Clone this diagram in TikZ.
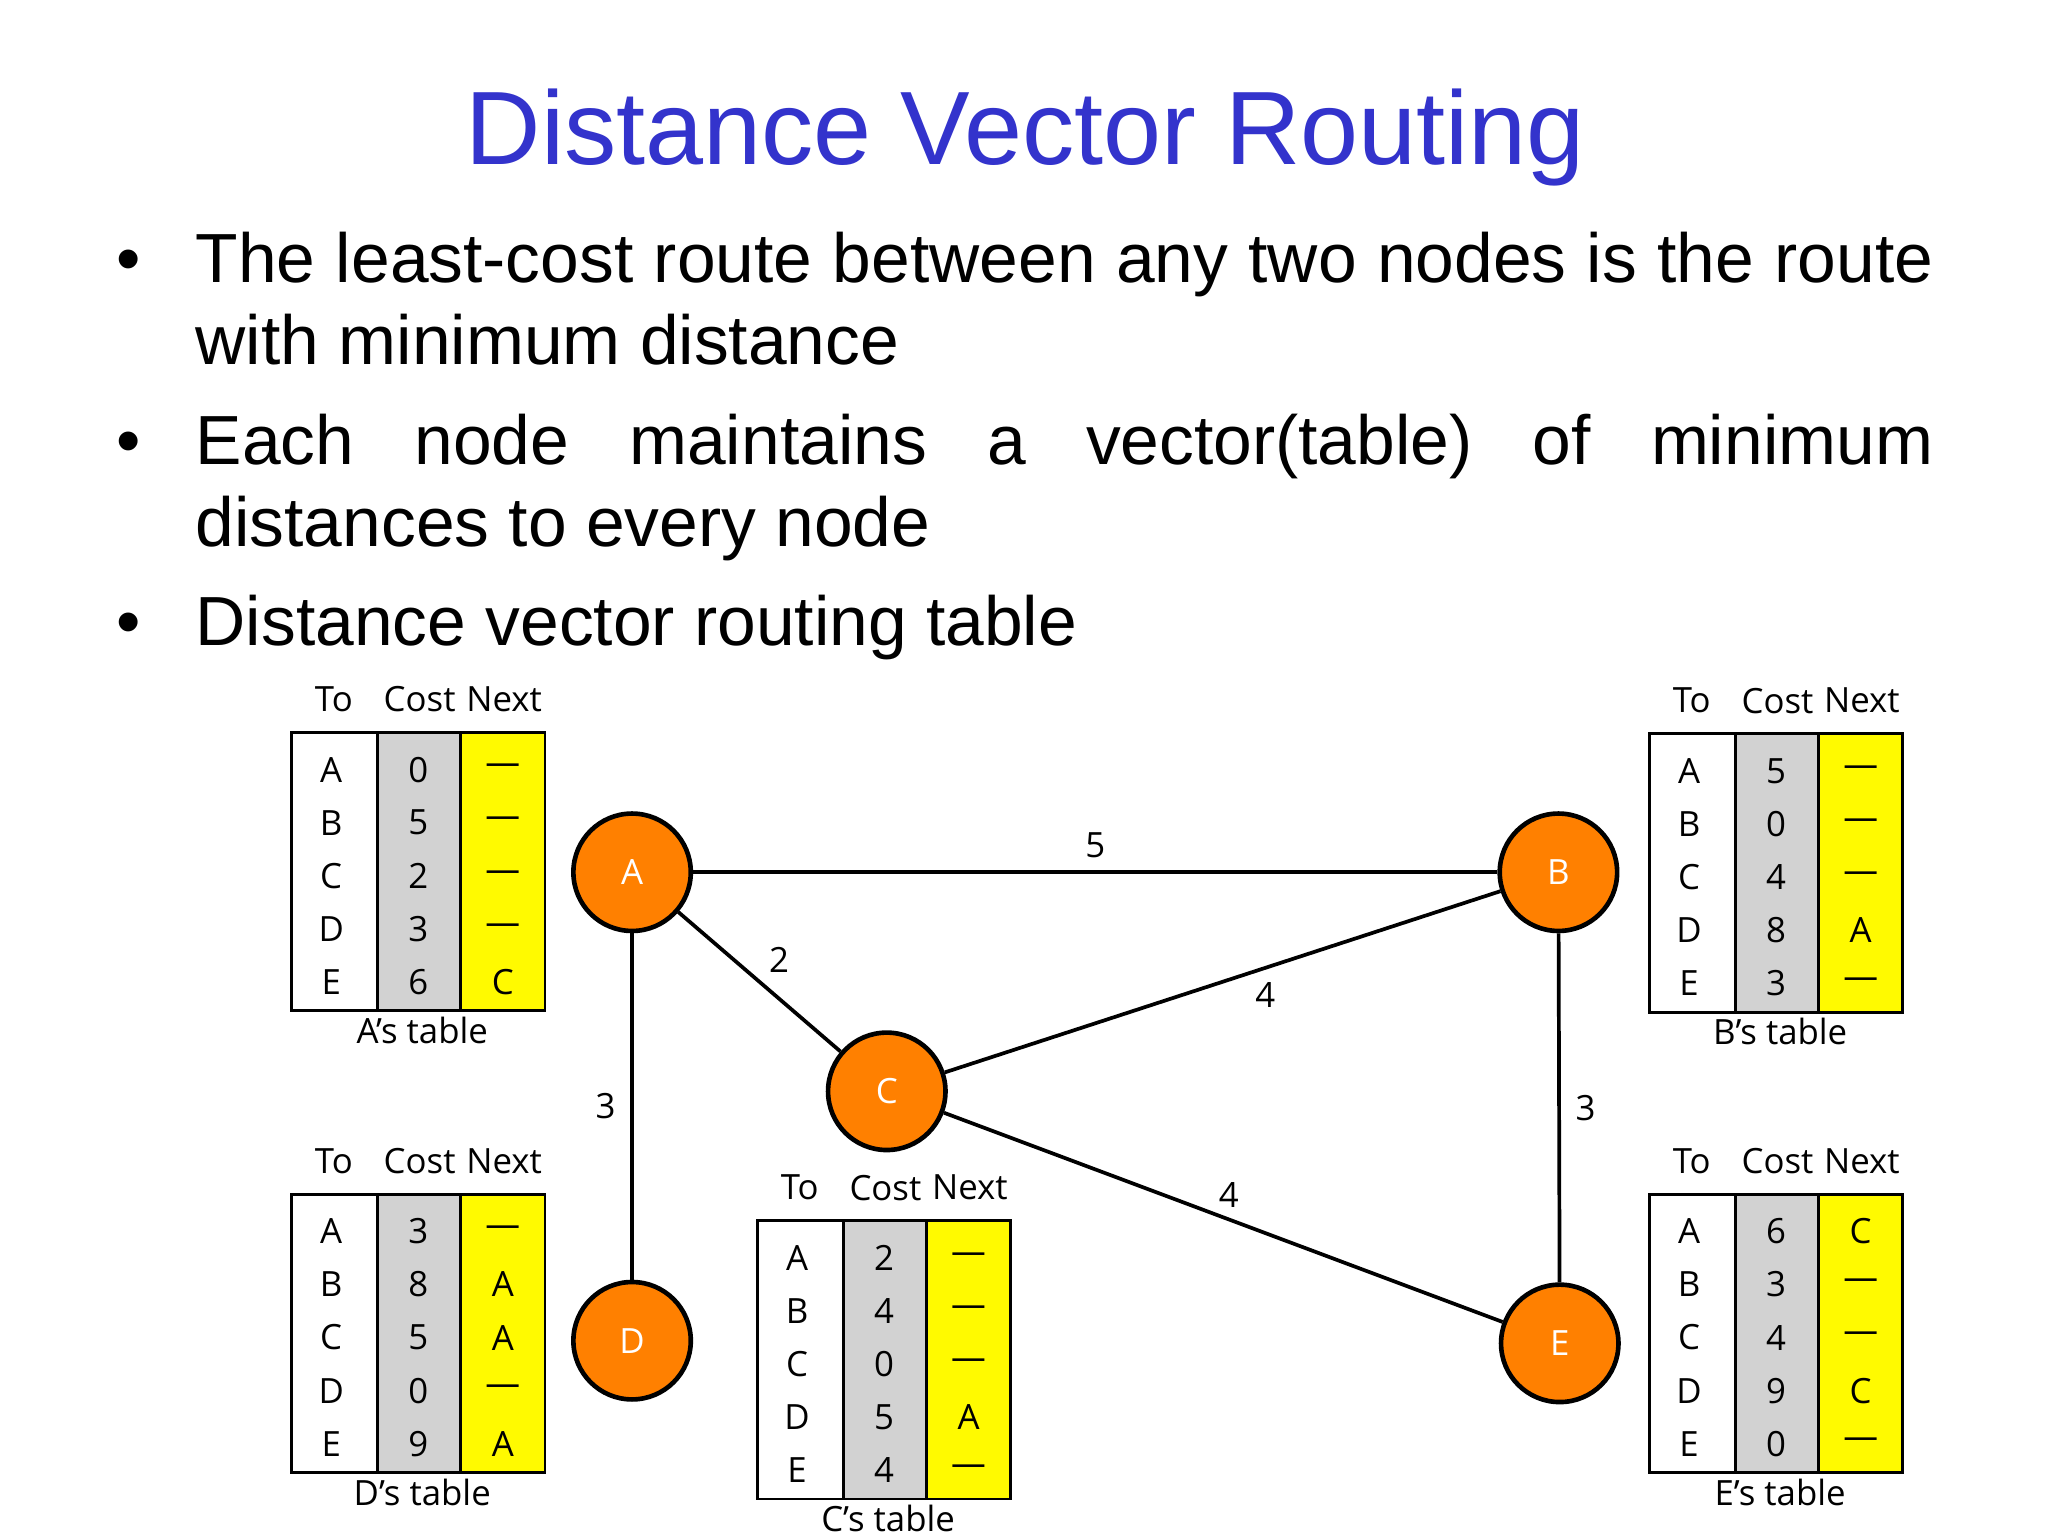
\documentclass[tikz,border=0pt]{standalone}
\usepackage{fontspec}
\setmainfont{Liberation Sans}
\newfontfamily\tabfont{Open Sans}
\definecolor{titleblue}{RGB}{51,51,204}
\definecolor{nodeor}{RGB}{255,128,0}
\definecolor{cellgray}{RGB}{210,210,210}
\definecolor{cellyel}{RGB}{255,250,0}
\tikzset{
 rnode/.style={circle,draw=black,line width=2pt,fill=nodeor,minimum size=1.78cm,inner sep=0pt,font=\tabfont\fontsize{15}{15}\selectfont,text=white},
 link/.style={line width=1.6pt},
 elab/.style={font=\tabfont\fontsize{15}{15}\selectfont},
 tabtxt/.style={font=\tabfont\fontsize{15}{15}\selectfont,inner sep=0pt},
 body/.style={anchor=base west,font=\fontsize{30}{30}\selectfont,inner sep=0pt}
}
\newcommand\dvtab[4]{%
 \fill[cellgray] (#1+65,#2) rectangle (#1+128,#2+211);
 \fill[cellyel] (#1+128,#2) rectangle (#1+192,#2+211);
 \draw[line width=1.2pt] (#1,#2) rectangle (#1+192,#2+211);
 \draw[line width=1.2pt] (#1+65,#2) -- (#1+65,#2+211) (#1+128,#2) -- (#1+128,#2+211);
 \node[tabtxt] at (#1+32,#2-25) {To};
 \node[tabtxt] at (#1+97,#2-25) {Cost};
 \node[tabtxt] at (#1+161,#2-25) {Next};
 \foreach \t/\c/\n [count=\i] in {#4} {
  \node[tabtxt] at (#1+30,#2+\i*40.2-12) {\t};
  \node[tabtxt] at (#1+96,#2+\i*40.2-12) {\c};
  \node[tabtxt] at (#1+160,#2+\i*40.2-12) {\n};
 }
 \node[tabtxt] at (#1+99,#2+226) {#3};
}
\begin{document}
\begin{tikzpicture}[x=0.02cm,y=-0.02cm]
\fill[white] (0,0) rectangle (1552,1164);
\useasboundingbox (0,0) rectangle (1552,1164);
\node[font=\fontsize{45}{45}\selectfont,text=titleblue,anchor=base] (title) at (777,125) {Distance Vector Routing};
\foreach \y in {214,352,489} \node[body] at (88,\y) {\textbullet};
\node[body] (l1) at (148,214) {\hbox to 26.34cm{The\hfill least-cost\hfill route\hfill between\hfill any\hfill two\hfill nodes\hfill is\hfill the\hfill route}};
\node[body] (l2) at (148,276) {with minimum distance};
\node[body] (l3) at (148,352) {\hbox to 26.34cm{Each\hfill node\hfill maintains\hfill a\hfill vector(table)\hfill of\hfill minimum}};
\node[body] (l4) at (148,414) {distances to every node};
\node[body] (l5) at (148,489) {Distance vector routing table};

\node[rnode] (A) at (479,661) {A};
\node[rnode] (B) at (1181,661) {B};
\node[rnode] (C) at (672,827) {C};
\node[rnode] (D) at (479,1016) {D};
\node[rnode] (E) at (1182,1018) {E};
\draw[link] (A) -- node[elab,above,pos=0.5,yshift=2pt] {5} (B);
\draw[link] (A) -- node[elab,above right,pos=0.5] {2} (C);
\draw[link] (C) -- node[elab,below right,pos=0.55,xshift=-2pt] {4} (B);
\draw[link] (A) -- node[elab,left,pos=0.5,xshift=-3pt] {3} (D);
\draw[link] (B) -- node[elab,right,pos=0.5,xshift=3pt] {3} (E);
\draw[link] (C) -- node[elab,above right,pos=0.5,xshift=-6pt] {4} (E);

\dvtab{221}{555}{A’s table}{A/0/—,B/5/—,C/2/—,D/3/—,E/6/C}
\dvtab{1250}{556}{B’s table}{A/5/—,B/0/—,C/4/—,D/8/A,E/3/—}
\dvtab{221}{905}{D’s table}{A/3/—,B/8/A,C/5/A,D/0/—,E/9/A}
\dvtab{574}{925}{C’s table}{A/2/—,B/4/—,C/0/—,D/5/A,E/4/—}
\dvtab{1250}{905}{E’s table}{A/6/C,B/3/—,C/4/—,D/9/C,E/0/—}
\end{tikzpicture}
\end{document}
